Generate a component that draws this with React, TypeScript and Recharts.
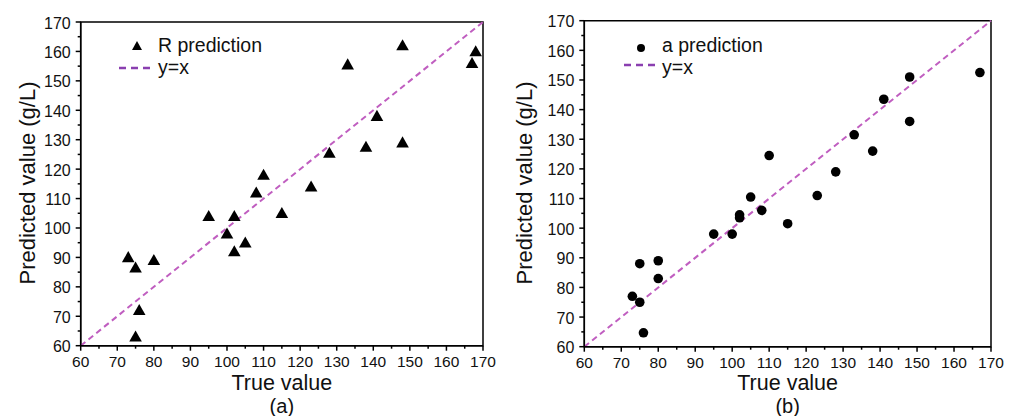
import React from 'react';
import {
  ScatterChart, Scatter, XAxis, YAxis, ReferenceLine, ReferenceArea, Legend,
} from 'recharts';

// values
const trueA = [73, 75, 75, 76, 80, 95, 100, 102, 102, 105, 108, 110, 115, 123, 128, 133, 138, 141, 148, 148, 167, 168];
const predR = [90, 86.5, 63, 72, 89, 104, 98, 104, 92, 95, 112, 118, 105, 114, 125.5, 155.5, 127.5, 138, 162, 129, 156, 160];

const trueB = [73, 75, 75, 76, 80, 80, 95, 100, 102, 102, 105, 108, 110, 115, 123, 128, 133, 138, 141, 148, 148, 167];
const predA = [77, 88, 75, 64.7, 89, 83, 98, 98, 104.5, 103.5, 110.5, 106, 124.5, 101.5, 111, 119, 131.5, 126, 143.5, 151, 136, 152.5];

const axisTicks = [60, 65, 70, 75, 80, 85, 90, 95, 100, 105, 110, 115, 120, 125, 130, 135, 140, 145, 150, 155, 160, 165, 170];
const identity = [{ x: 60, y: 60 }, { x: 170, y: 170 }];

const FONT = '"Liberation Sans", Arial, sans-serif';
const DIAG = '#c05ec0';
const DIAG_LEGEND = '#8a3fb0';

const XTick = (props: any) => {
  const { x, y, payload } = props;
  const major = payload.value % 10 === 0;
  return (
    <g>
      <line x1={x} x2={x} y1={y} y2={y + (major ? 5 : 3)} stroke="#000" strokeWidth={1.5} />
      {major && (
        <text x={x} y={y + 15.5} textAnchor="middle" dominantBaseline="central" fontSize={15.5} fill="#111" fontFamily={FONT}>
          {payload.value}
        </text>
      )}
    </g>
  );
};

const YTick = (props: any) => {
  const { x, y, payload } = props;
  const major = payload.value % 10 === 0;
  return (
    <g>
      <line x1={x} x2={x - (major ? 5 : 3)} y1={y} y2={y} stroke="#000" strokeWidth={1.5} />
      {major && (
        <text x={x - 10} y={y + 1} textAnchor="end" dominantBaseline="central" fontSize={16} fill="#111" fontFamily={FONT}>
          {payload.value}
        </text>
      )}
    </g>
  );
};

const Triangle = (props: any) => {
  const { cx, cy } = props;
  const s = 6.3;
  return <polygon points={`${cx},${cy - s} ${cx - s},${cy + s * 0.75} ${cx + s},${cy + s * 0.75}`} fill="#000" />;
};

const Dot = (props: any) => <circle cx={props.cx} cy={props.cy} r={4.8} fill="#000" />;

function LegendBox({ label, marker, mx, my, tx, dashX, dashY, row1Y, row2Y }: any) {
  return (
    <div style={{ position: 'relative', fontFamily: FONT, fontSize: 19.5, color: '#111' }}>
      <svg width={60} height={80} style={{ position: 'absolute', left: 0, top: 0, overflow: 'visible' }}>
        {marker === 'triangle'
          ? <polygon points={`${mx},${my - 5} ${mx - 5},${my + 4} ${mx + 5},${my + 4}`} fill="#000" />
          : <circle cx={mx} cy={my} r={4} fill="#000" />}
        <line x1={dashX} x2={dashX + 32} y1={dashY} y2={dashY} stroke={DIAG_LEGEND} strokeWidth={2.5} strokeDasharray="7 5" />
      </svg>
      <div style={{ position: 'absolute', left: tx, top: row1Y - 7, lineHeight: '14px', whiteSpace: 'nowrap' }}>{label}</div>
      <div style={{ position: 'absolute', left: tx, top: row2Y - 7, lineHeight: '14px', whiteSpace: 'nowrap' }}>y=x</div>
    </div>
  );
}

function Panel({ xs, ys, shape, legendLabel, marker, yAxisWidth, top, bottom, right, tag, legend, yLabelX }: any) {
  const data = xs.map((x: number, i: number) => ({ x, y: ys[i] }));
  const centerX = yAxisWidth + (507 - yAxisWidth - right) / 2;
  const textStyle: React.CSSProperties = {
    position: 'absolute', left: centerX, width: 'max-content', transform: 'translateX(-50%)',
    fontFamily: FONT, lineHeight: '20px', color: '#111', whiteSpace: 'nowrap',
  };
  return (
    <div style={{ position: 'relative', width: 507, height: 416 }}>
      <ScatterChart width={507} height={416} margin={{ top, right, bottom: 0, left: 0 }}>
        <XAxis
          type="number" dataKey="x" domain={[60, 170]} ticks={axisTicks} interval={0}
          height={bottom} tickSize={0} tickMargin={0} tick={<XTick />} axisLine={{ stroke: '#000', strokeWidth: 1.5 }} tickLine={false}
        />
        <YAxis
          type="number" dataKey="y" domain={[60, 170]} ticks={axisTicks} interval={0}
          width={yAxisWidth} tickSize={0} tickMargin={0} tick={<YTick />} axisLine={{ stroke: '#000', strokeWidth: 1.5 }} tickLine={false}
        />
        <ReferenceArea x1={60} x2={170} y1={60} y2={170} fill="none" stroke="#000" strokeWidth={1.5} />
        <ReferenceLine segment={identity} stroke={DIAG} strokeWidth={2} strokeDasharray="6 4" />
        <Scatter data={data} shape={shape} isAnimationActive={false} />
        <Legend
          layout="vertical" align="center" verticalAlign="middle"
          wrapperStyle={{ left: 0, top: 0, width: 1, height: 1 }}
          content={() => <LegendBox label={legendLabel} marker={marker} {...legend} />}
        />
      </ScatterChart>
      <div style={{ position: 'absolute', left: yLabelX, top: 183, width: 'max-content', transform: 'translate(-50%, -50%) rotate(-90deg)', fontFamily: FONT, fontSize: 22, lineHeight: '24px', color: '#111', whiteSpace: 'nowrap' }}>
        Predicted value (g/L)
      </div>
      <div style={{ ...textStyle, fontSize: 21.5, top: 383 - 10 }}>True value</div>
      <div style={{ ...textStyle, fontSize: 20, top: 405.5 - 10 }}>{tag}</div>
    </div>
  );
}

export default function App() {
  return (
    <div style={{ display: 'flex', width: 1014, height: 416, background: '#fff' }}>
      <style>{'body{margin:0}'}</style>
      <Panel
        xs={trueA} ys={predR} shape={<Triangle />} legendLabel="R prediction" marker="triangle"
        yAxisWidth={80.7} top={22} bottom={70.3} right={24} tag="(a)" yLabelX={28}
        legend={{ mx: 137, my: 46, tx: 158, dashX: 119, dashY: 68, row1Y: 45, row2Y: 67 }}
      />
      <Panel
        xs={trueB} ys={predA} shape={<Dot />} legendLabel="a prediction" marker="dot"
        yAxisWidth={77.3} top={20.7} bottom={69.3} right={23} tag="(b)" yLabelX={18}
        legend={{ mx: 134, my: 48, tx: 155, dashX: 117, dashY: 65, row1Y: 45, row2Y: 66.5 }}
      />
    </div>
  );
}
